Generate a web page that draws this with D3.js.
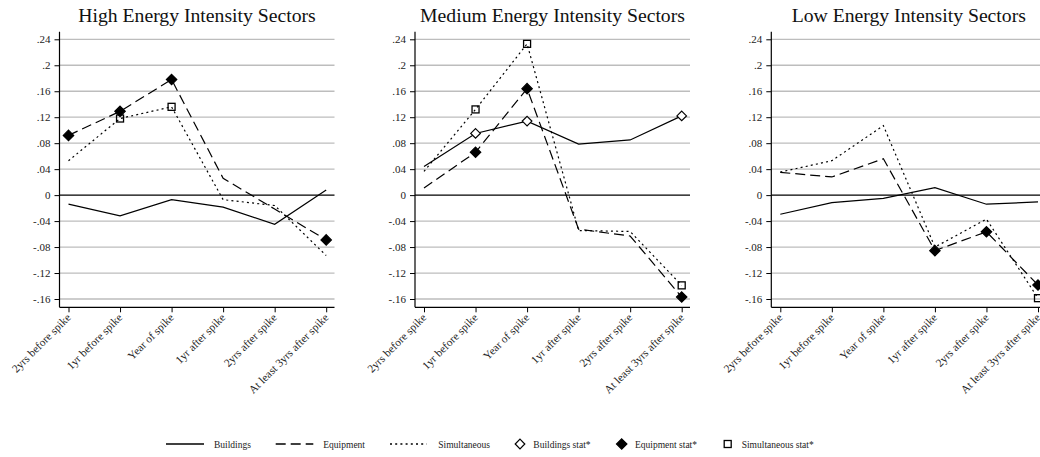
<!DOCTYPE html>
<html><head><meta charset="utf-8">
<script src="https://cdn.jsdelivr.net/npm/d3@7/dist/d3.min.js"></script>
<style>
body{margin:0;background:#fff}
svg{display:block;font-family:"Liberation Serif","Times New Roman",Times,serif}
</style>
</head><body>
<svg id="chart" width="1040" height="457"></svg>
<script>
// ---- data ----
const categories = ["2yrs before spike","1yr before spike","Year of spike","1yr after spike","2yrs after spike","At least 3yrs after spike"];
const yTicks = [-0.16,-0.12,-0.08,-0.04,0,0.04,0.08,0.12,0.16,0.2,0.24];
const panelTitles = ["High Energy Intensity Sectors","Medium Energy Intensity Sectors","Low Energy Intensity Sectors"];
const seriesNames = ["Buildings","Equipment","Simultaneous"];
const legendLabels = ["Buildings","Equipment","Simultaneous","Buildings stat*","Equipment stat*","Simultaneous stat*"];

const highBuildings    = [-0.014,-0.032,-0.007,-0.0185,-0.045,0.008];
const highEquipment    = [0.092,0.129,0.178,0.026,-0.0215,-0.069];
const highSimultaneous = [0.053,0.118,0.136,-0.007,-0.016,-0.093];
const highBuildingsStat    = [0,0,0,0,0,0];
const highEquipmentStat    = [1,1,1,0,0,1];
const highSimultaneousStat = [0,1,1,0,0,0];

const medBuildings    = [0.044,0.095,0.114,0.0785,0.085,0.122];
const medEquipment    = [0.011,0.066,0.164,-0.0525,-0.063,-0.157];
const medSimultaneous = [0.0365,0.132,0.233,-0.0545,-0.056,-0.139];
const medBuildingsStat    = [0,1,1,0,0,1];
const medEquipmentStat    = [0,1,1,0,0,1];
const medSimultaneousStat = [0,1,1,0,0,1];

const lowBuildings    = [-0.0295,-0.0115,-0.005,0.0115,-0.014,-0.0105];
const lowEquipment    = [0.035,0.028,0.056,-0.0855,-0.0565,-0.1385];
const lowSimultaneous = [0.0355,0.053,0.107,-0.080,-0.037,-0.1587];
const lowBuildingsStat    = [0,0,0,0,0,0];
const lowEquipmentStat    = [0,0,0,1,1,1];
const lowSimultaneousStat = [0,0,0,0,0,1];

const panels = [
  {title: panelTitles[0], values: [highBuildings, highEquipment, highSimultaneous], stats: [highBuildingsStat, highEquipmentStat, highSimultaneousStat]},
  {title: panelTitles[1], values: [medBuildings, medEquipment, medSimultaneous], stats: [medBuildingsStat, medEquipmentStat, medSimultaneousStat]},
  {title: panelTitles[2], values: [lowBuildings, lowEquipment, lowSimultaneous], stats: [lowBuildingsStat, lowEquipmentStat, lowSimultaneousStat]}
];

// ---- styles ----
const dashes = [null, "10,5", "2,3.2"];
const markerKinds = ["hollowDiamond","filledDiamond","hollowSquare"];
const svg = d3.select("#chart");
const axisXs = [59.5, 415, 771.3];
const plotW = 275, catL = 9, catR = 266.7;
const yTop = 31.7, yBottom = 307.3;
const y = d3.scaleLinear().domain([-0.16, 0.24]).range([299, 39.3]);
const fmt = d => d === 0 ? "0" : String(+d.toFixed(2)).replace("0.", ".");

function drawMarker(g, kind, cx, cy) {
  if (kind === "hollowDiamond" || kind === "filledDiamond") {
    const r = kind === "filledDiamond" ? 5.2 : 4.8;
    g.append("path")
      .attr("d", `M${cx},${cy-r}L${cx+r},${cy}L${cx},${cy+r}L${cx-r},${cy}Z`)
      .attr("fill", kind === "filledDiamond" ? "#000" : "#fff")
      .attr("stroke", "#000").attr("stroke-width", 1.2);
  } else {
    const s = 7;
    g.append("rect").attr("x", cx - s/2).attr("y", cy - s/2).attr("width", s).attr("height", s)
      .attr("fill", "none").attr("stroke", "#000").attr("stroke-width", 1.3);
  }
}

panels.forEach((p, pi) => {
  const ax = axisXs[pi];
  const g = svg.append("g");
  const x = d3.scalePoint().domain(categories).range([ax + catL, ax + catR]).padding(0);

  // gridlines
  g.selectAll("line.grid").data(yTicks.filter(t => t !== 0)).join("line")
    .attr("x1", ax).attr("x2", ax + plotW)
    .attr("y1", d => y(d)).attr("y2", d => y(d))
    .attr("stroke", "#bdbdbd").attr("stroke-width", 1.3);
  g.append("line").attr("x1", ax).attr("x2", ax + plotW)
    .attr("y1", y(0)).attr("y2", y(0)).attr("stroke", "#000").attr("stroke-width", 1.2);

  // y axis
  const ya = g.append("g").attr("transform", `translate(${ax},0)`)
    .call(d3.axisLeft(y).tickValues(yTicks).tickFormat(fmt).tickSize(5).tickPadding(4));
  ya.select(".domain").remove();
  ya.selectAll("text").attr("font-family", "Liberation Serif, Times New Roman, serif").attr("font-size", 11).attr("fill", "#222");
  ya.selectAll("line").attr("stroke", "#000");
  g.append("line").attr("x1", ax).attr("x2", ax).attr("y1", yTop).attr("y2", yBottom)
    .attr("stroke", "#000").attr("stroke-width", 1.2);

  // x axis
  const xa = g.append("g").attr("transform", `translate(0,${yBottom})`)
    .call(d3.axisBottom(x).tickSize(5).tickFormat(""));
  xa.select(".domain").remove();
  xa.selectAll("line").attr("stroke", "#000");
  g.append("line").attr("x1", ax).attr("x2", ax + plotW).attr("y1", yBottom).attr("y2", yBottom)
    .attr("stroke", "#000").attr("stroke-width", 1.2);
  g.selectAll("text.xl").data(categories).join("text")
    .attr("class", "xl")
    .attr("transform", d => `translate(${x(d) + 3},${yBottom + 11}) rotate(-45)`)
    .attr("text-anchor", "end")
    .attr("font-size", 11.3).attr("fill", "#222")
    .text(d => d);

  // title
  g.append("text").attr("x", ax + plotW / 2).attr("y", 22)
    .attr("text-anchor", "middle").attr("font-size", 19.7).attr("fill", "#111")
    .text(p.title);

  // lines
  const line = d3.line().x((d, i) => x(categories[i])).y(d => y(d));
  p.values.forEach((vals, si) => {
    g.append("path").datum(vals).attr("d", line)
      .attr("fill", "none").attr("stroke", "#000").attr("stroke-width", 1.2)
      .attr("stroke-dasharray", dashes[si]);
  });
  // markers
  p.values.forEach((vals, si) => {
    vals.forEach((v, i) => {
      if (p.stats[si][i]) drawMarker(g, markerKinds[si], x(categories[i]), y(v));
    });
  });
});

// legend
const lg = svg.append("g");
const ly = 444;
const lineItems = [{x0: 166, x1: 204, tx: 214}, {x0: 275.7, x1: 313.3, tx: 323.3}, {x0: 390, x1: 426.7, tx: 438.3}];
lineItems.forEach((it, i) => {
  lg.append("line").attr("x1", it.x0).attr("x2", it.x1).attr("y1", ly).attr("y2", ly)
    .attr("stroke", "#000").attr("stroke-width", 1.3).attr("stroke-dasharray", dashes[i]);
  lg.append("text").attr("x", it.tx).attr("y", ly + 3.5).attr("font-size", 9.5).attr("fill", "#222").text(legendLabels[i]);
});
const markItems = [{cx: 520, tx: 533.3}, {cx: 621.7, tx: 635}, {cx: 727.7, tx: 741.7}];
markItems.forEach((it, i) => {
  drawMarker(lg, markerKinds[i], it.cx, ly);
  lg.append("text").attr("x", it.tx).attr("y", ly + 3.5).attr("font-size", 9.5).attr("fill", "#222").text(legendLabels[i + 3]);
});
</script>
</body></html>
